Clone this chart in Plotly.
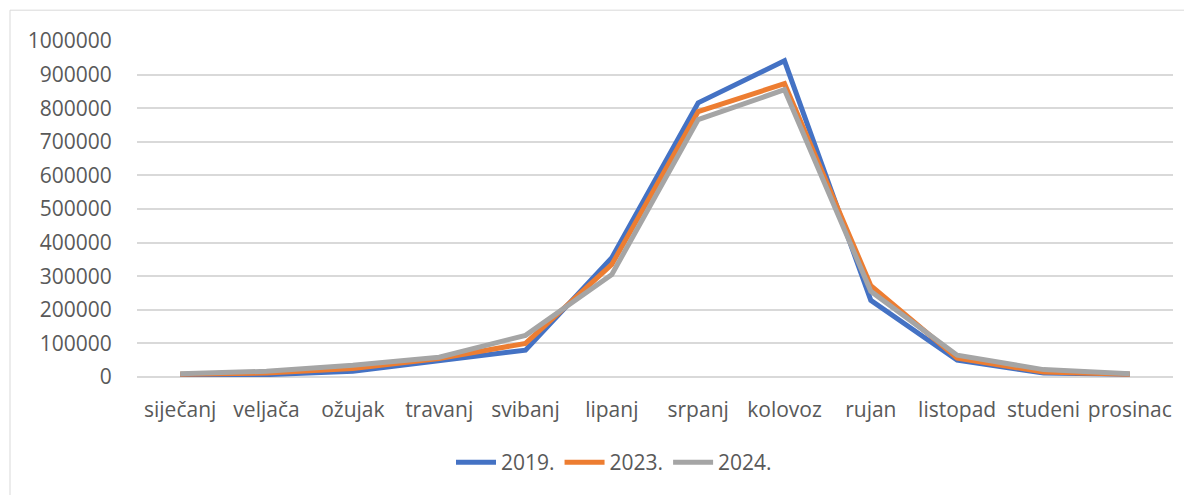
import plotly.graph_objects as go

months = ["siječanj", "veljača", "ožujak", "travanj", "svibanj", "lipanj",
          "srpanj", "kolovoz", "rujan", "listopad", "studeni", "prosinac"]
y2019 = [5000, 7000, 17000, 47000, 80000, 355000, 816000, 941000, 228000, 50000, 12000, 8000]
y2023 = [8000, 12000, 25000, 55000, 100000, 335000, 790000, 873000, 272000, 56000, 15000, 8000]
y2024 = [10000, 17000, 35000, 59000, 124000, 305000, 766000, 855000, 255000, 65000, 22000, 10000]

series = [("2019.", y2019, "#4472C4"), ("2023.", y2023, "#ED7D31"), ("2024.", y2024, "#A5A5A5")]

fig = go.Figure()
for name, vals, col in series:
    fig.add_trace(go.Scatter(x=months, y=vals, name=name, mode="lines",
                             line=dict(color=col, width=5)))

W, H = 1184, 487
ml, mr, mt, mb = 129, 19, 33, 116
pw, ph = W - ml - mr, H - mt - mb
fig.add_shape(type="rect", xref="paper", yref="paper",
              x0=(2 - ml) / pw, x1=(1180 - ml) / pw,
              y0=(H - mb - 495) / ph, y1=(H - mb - 2) / ph,
              line=dict(color="#D9D9D9", width=1), fillcolor="rgba(0,0,0,0)", layer="below")

fig.update_layout(
    width=W, height=H,
    margin=dict(l=ml, r=mr, t=mt, b=mb),
    paper_bgcolor="white", plot_bgcolor="white",
    font=dict(family="Open Sans, sans-serif", size=21, color="#595959"),
    showlegend=True,
    legend=dict(orientation="h", x=(606 - ml) / pw, xanchor="center",
                y=-(457 - (H - mb)) / ph, yanchor="middle",
                font=dict(size=21, color="#595959"), itemwidth=40),
    xaxis=dict(range=[-0.5, 11.5], showgrid=False, showline=False, zeroline=False,
               ticks="outside", ticklen=14, tickcolor="rgba(0,0,0,0)",
               tickfont=dict(size=21)),
    yaxis=dict(range=[0, 1000000], dtick=100000, showgrid=True, gridcolor="#D9D9D9",
               gridwidth=1.5, zeroline=True, zerolinecolor="#D9D9D9", zerolinewidth=1.5,
               showline=False, tickformat="d", ticks="outside", ticklen=20,
               tickcolor="rgba(0,0,0,0)", tickfont=dict(size=21)),
)

fig.write_html("out.html")
